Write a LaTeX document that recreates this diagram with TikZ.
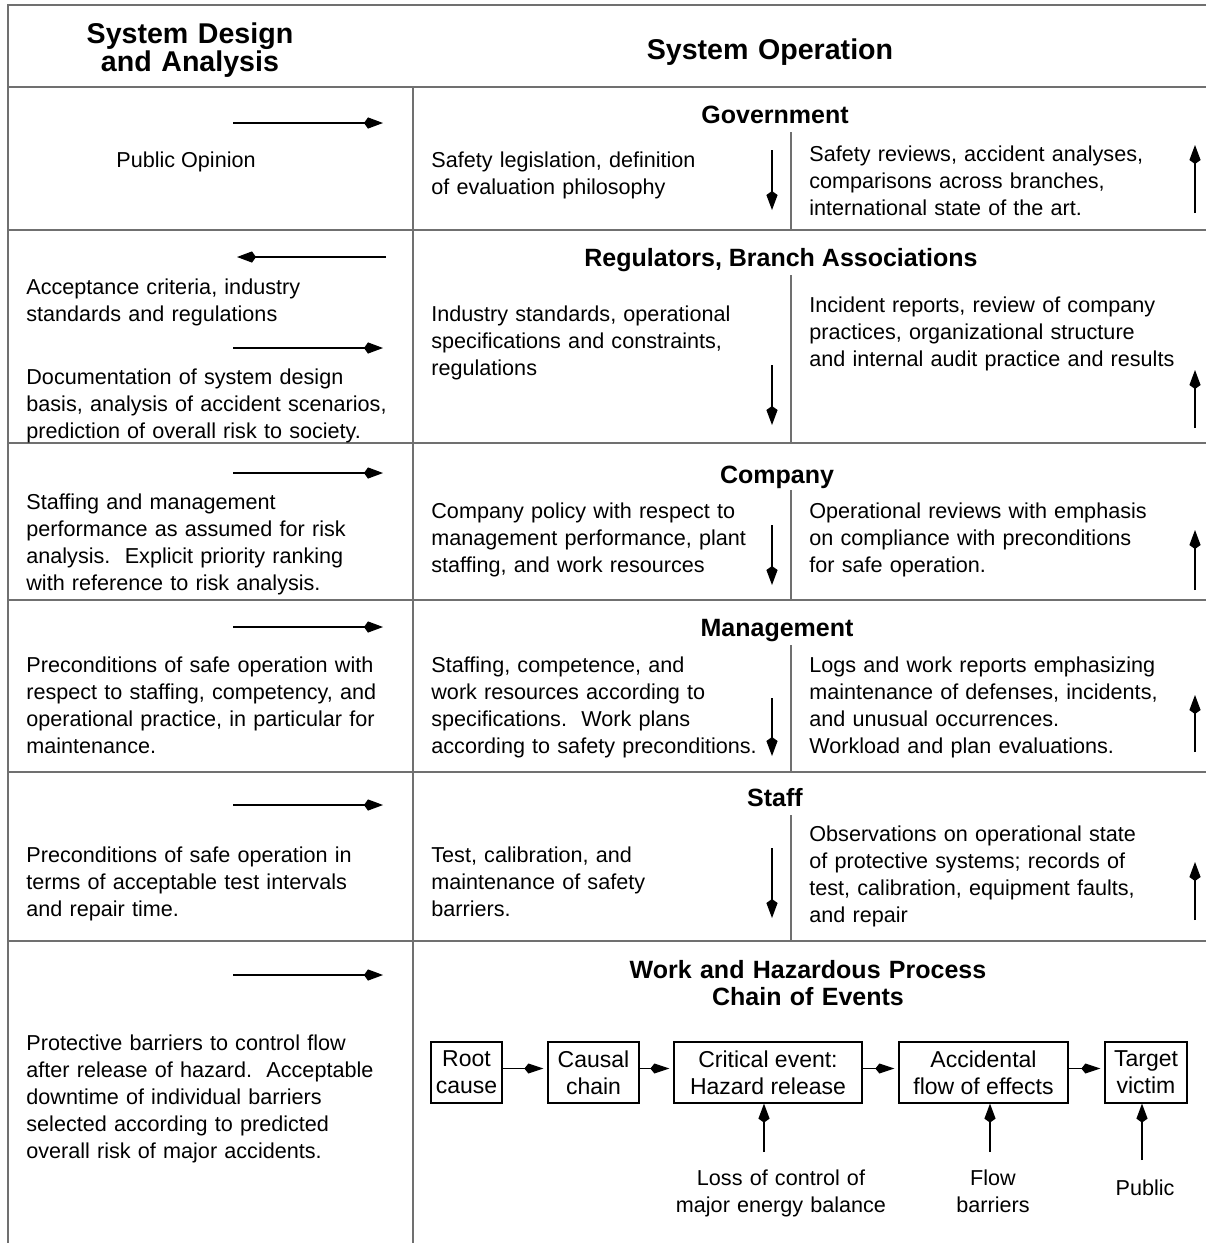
\documentclass[tikz,border=0pt]{standalone}
\usepackage{fontspec}
\setmainfont{Liberation Sans}
\usetikzlibrary{arrows.meta}
\definecolor{gridgray}{RGB}{112,112,112}
\begin{document}
\begin{tikzpicture}[x=0.5pt,y=-0.5pt,
  grid/.style={draw=gridgray,line width=1pt},
  flow/.style={line width=0.9pt,-{Kite[length=9.5pt,width=5.6pt,inset=2pt]}},
  chainflow/.style={line width=0.6pt,shorten >=2pt,-{Kite[length=9.5pt,width=5pt,inset=2pt]}},
  body/.style={inner sep=0pt,align=left,anchor=base west,
    font=\fontsize{10.8}{13.5}\selectfont},
  note/.style={inner sep=0pt,align=center,anchor=base,
    font=\fontsize{10.8}{13.5}\selectfont},
  title/.style={inner sep=0pt,anchor=base,font=\bfseries\fontsize{12.5}{13.5}\selectfont},
  head/.style={inner sep=0pt,align=center,anchor=base,text width=160pt,
    font=\bfseries\fontsize{14.3}{12.8}\selectfont},
  stage/.style={draw,line width=0.6pt,inner sep=0pt,align=center,
    minimum height=30.5pt,font=\fontsize{11.5}{13.5}\selectfont},
]
\useasboundingbox (0,0) rectangle (1206,1243);

% table frame
\draw[grid] (1206,5) -- (8,5) -- (8,1243);
\foreach \y in {87,230,443,600,772,941} \draw[grid] (8,\y) -- (1206,\y);
\draw[grid] (413,87) -- (413,1243);
% dividers between downward and upward reports
\foreach \ya/\yb in {132/230,275/443,490/600,645/772,815/941}
  \draw[grid] (791,\ya) -- (791,\yb);

% column headings
\node[head] (hdesign) at (190,43) {System Design\\and Analysis};
\node[head] (hoper) at (770,59) {System Operation};

% level titles
\node[title] (gov) at (775,123) {Government};
\node[title] (reg) at (781,266) {Regulators, Branch Associations};
\node[title] (comp) at (777,483) {Company};
\node[title] (mgmt) at (777,636) {Management};
\node[title] (staff) at (775,806) {Staff};
\node[title,align=center,text width=200pt] (work) at (808,978)
  {Work and Hazardous Process\\Chain of Events};

% design and analysis column
\node[note] (pubop) at (186,167) {Public Opinion};
\node[body,text width=192pt] (accept) at (26,294)
  {Acceptance criteria, industry\\standards and regulations};
\node[body,text width=192pt] (docu) at (26,384)
  {Documentation of system design\\basis, analysis of accident scenarios,\\prediction of overall risk to society.};
\node[body,text width=192pt] (staffass) at (26,509)
  {Staffing and management\\performance as assumed for risk\\analysis.\ \ Explicit priority ranking\\with reference to risk analysis.};
\node[body,text width=192pt] (precond) at (26,672)
  {Preconditions of safe operation with\\respect to staffing, competency, and\\operational practice, in particular for\\maintenance.};
\node[body,text width=192pt] (precterm) at (26,862)
  {Preconditions of safe operation in\\terms of acceptable test intervals\\and repair time.};
\node[body,text width=192pt] (protect) at (26,1050)
  {Protective barriers to control flow\\after release of hazard.\ \ Acceptable\\downtime of individual barriers\\selected according to predicted\\overall risk of major accidents.};

% orders going down
\node[body,text width=172pt] (govd) at (431,167)
  {Safety legislation, definition\\of evaluation philosophy};
\node[body,text width=172pt] (regd) at (431,321)
  {Industry standards, operational\\specifications and constraints,\\regulations};
\node[body,text width=172pt] (compd) at (431,518)
  {Company policy with respect to\\management performance, plant\\staffing, and work resources};
\node[body,text width=172pt] (mgmtd) at (431,672)
  {Staffing, competence, and\\work resources according to\\specifications.\ \ Work plans\\according to safety preconditions.};
\node[body,text width=172pt] (staffd) at (431,862)
  {Test, calibration, and\\maintenance of safety\\barriers.};

% reports going up
\node[body,text width=196pt] (govu) at (809,161)
  {Safety reviews, accident analyses,\\comparisons across branches,\\international state of the art.};
\node[body,text width=196pt] (regu) at (809,312)
  {Incident reports, review of company\\practices, organizational structure\\and internal audit practice and results};
\node[body,text width=196pt] (compu) at (809,518)
  {Operational reviews with emphasis\\on compliance with preconditions\\for safe operation.};
\node[body,text width=196pt] (mgmtu) at (809,672)
  {Logs and work reports emphasizing\\maintenance of defenses, incidents,\\and unusual occurrences.\\Workload and plan evaluations.};
\node[body,text width=196pt] (staffu) at (809,841)
  {Observations on operational state\\of protective systems; records of\\test, calibration, equipment faults,\\and repair};

% horizontal arrows of the design column
\foreach \n/\y in {a/123,b/348,c/473,d/627,e/805,f/975} {
  \coordinate (in-\n-from) at (233,\y);
  \coordinate (in-\n-to) at (383,\y);
  \draw[flow] (in-\n-from) -- (in-\n-to);
}
\coordinate (fb-from) at (386,257);
\coordinate (fb-to) at (237,257);
\draw[flow] (fb-from) -- (fb-to);

% vertical arrows of the operation column
\foreach \n/\ya/\yb in {gov/150/210,reg/365/425,comp/525/585,mgmt/698/756,staff/848/918} {
  \coordinate (\n-dfrom) at (772,\ya);
  \coordinate (\n-dto) at (772,\yb);
  \draw[flow] (\n-dfrom) -- (\n-dto);
}
\foreach \n/\ya/\yb in {gov/213/145,reg/428/370,comp/590/530,mgmt/752/695,staff/920/862} {
  \coordinate (\n-ufrom) at (1195,\ya);
  \coordinate (\n-uto) at (1195,\yb);
  \draw[flow] (\n-ufrom) -- (\n-uto);
}

% chain of events
\node[stage,minimum width=35.5pt] (root) at (466.5,1072.5) {Root\\cause};
\node[stage,minimum width=45.5pt] (causal) at (593.5,1072.5) {Causal\\chain};
\node[stage,minimum width=94pt] (critical) at (768,1072.5) {Critical event:\\Hazard release};
\node[stage,minimum width=84.5pt] (accid) at (983.5,1072.5) {Accidental\\flow of effects};
\node[stage,minimum width=41pt] (target) at (1146,1072.5) {Target\\victim};
\draw[chainflow] ([yshift=2pt]root.east) -- ([yshift=2pt]causal.west);
\draw[chainflow] ([yshift=2pt]causal.east) -- ([yshift=2pt]critical.west);
\draw[chainflow] ([yshift=2pt]critical.east) -- ([yshift=2pt]accid.west);
\draw[chainflow] ([yshift=2pt]accid.east) -- ([yshift=2pt]target.west);

\coordinate (lossfoot) at (764,1152);
\coordinate (flowfoot) at (990,1152);
\coordinate (pubfoot) at (1142,1160);
\draw[flow] (lossfoot) -- (critical.south -| lossfoot);
\draw[flow] (flowfoot) -- (accid.south -| flowfoot);
\draw[flow] (pubfoot) -- (target.south -| pubfoot);
\node[note,text width=112pt] (loss) at (781,1185) {Loss of control of\\major energy balance};
\node[note,text width=60pt] (barr) at (993,1185) {Flow\\barriers};
\node[note] (pub) at (1145,1195) {Public};
\end{tikzpicture}
\end{document}
